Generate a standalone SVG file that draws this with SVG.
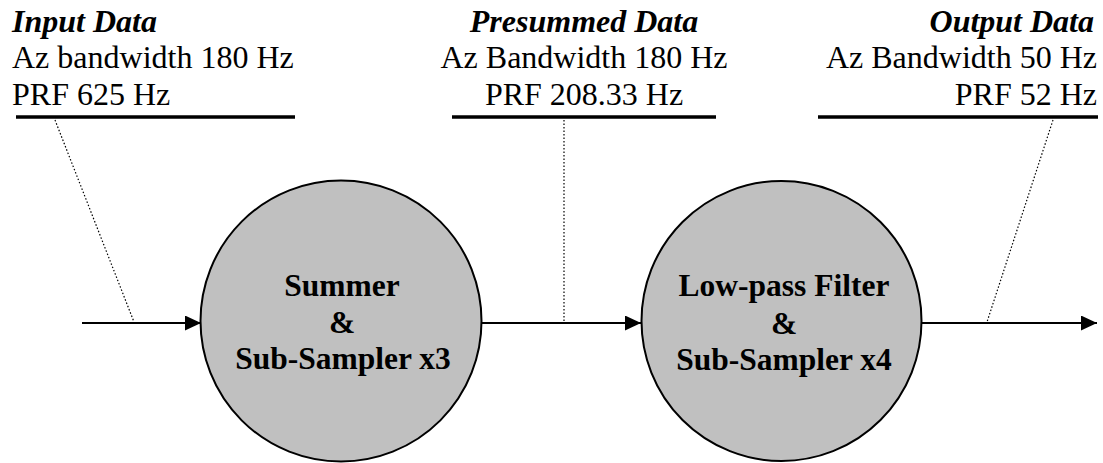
<svg xmlns="http://www.w3.org/2000/svg" width="1103" height="463" viewBox="0 0 1103 463">
<style>
text{font-family:'Liberation Serif',serif;font-size:32px;fill:#000}
.h{font-weight:bold;font-style:italic}
.b{font-weight:bold;font-size:31.5px;text-anchor:middle}
.u{stroke:#000;stroke-width:3.5}
.c{stroke:#000;stroke-width:2;fill:none}
.d{stroke:#000;stroke-width:1.2;stroke-dasharray:1.5 2;fill:none}
.n{fill:#c0c0c0;stroke:#000;stroke-width:2}
</style>
<defs>
<marker id="ah" markerWidth="16" markerHeight="15" refX="16" refY="7.5" orient="auto" markerUnits="userSpaceOnUse">
<path d="M0,0 L16,7.5 L0,15 Z" fill="#000"/>
</marker>
</defs>
<rect width="1103" height="463" fill="#fff"/>
<g id="labels" font-family="Liberation Serif, serif">
<g id="input-label">
<text class="h" x="12" y="32">Input Data</text>
<text x="12" y="68">Az bandwidth 180 Hz</text>
<text x="12" y="105">PRF 625 Hz</text>
<line class="u" x1="16" y1="117" x2="295" y2="117"/>
</g>
<g id="presummed-label">
<text class="h" x="584" y="32" text-anchor="middle">Presummed Data</text>
<text x="584" y="68" text-anchor="middle">Az Bandwidth 180 Hz</text>
<text x="584" y="105" text-anchor="middle">PRF 208.33 Hz</text>
<line class="u" x1="452" y1="117" x2="716" y2="117"/>
</g>
<g id="output-label">
<text class="h" x="1094" y="32" text-anchor="end">Output Data</text>
<text x="1097" y="68" text-anchor="end">Az Bandwidth 50 Hz</text>
<text x="1097" y="105" text-anchor="end">PRF 52 Hz</text>
<line class="u" x1="818" y1="117" x2="1098" y2="117"/>
</g>
</g>
<g id="connectors">
<line class="c" x1="82" y1="323" x2="201" y2="323" marker-end="url(#ah)"/>
<line class="c" x1="482" y1="323" x2="641" y2="323" marker-end="url(#ah)"/>
<line class="c" x1="922" y1="323" x2="1097" y2="323" marker-end="url(#ah)"/>
<line class="d" x1="55" y1="120" x2="134" y2="322"/>
<line class="d" x1="564" y1="120" x2="564" y2="322"/>
<line class="d" x1="1053" y1="120" x2="987" y2="322"/>
</g>
<g id="node-summer">
<circle class="n" cx="341" cy="321" r="140.5"/>
<text class="b" x="342" y="296">Summer</text>
<text class="b" x="342" y="333">&amp;</text>
<text class="b" x="343" y="369">Sub-Sampler x3</text>
</g>
<g id="node-lpf">
<circle class="n" cx="781.5" cy="321" r="140"/>
<text class="b" x="784" y="296">Low-pass Filter</text>
<text class="b" x="784" y="334">&amp;</text>
<text class="b" x="784" y="370">Sub-Sampler x4</text>
</g>
</svg>
